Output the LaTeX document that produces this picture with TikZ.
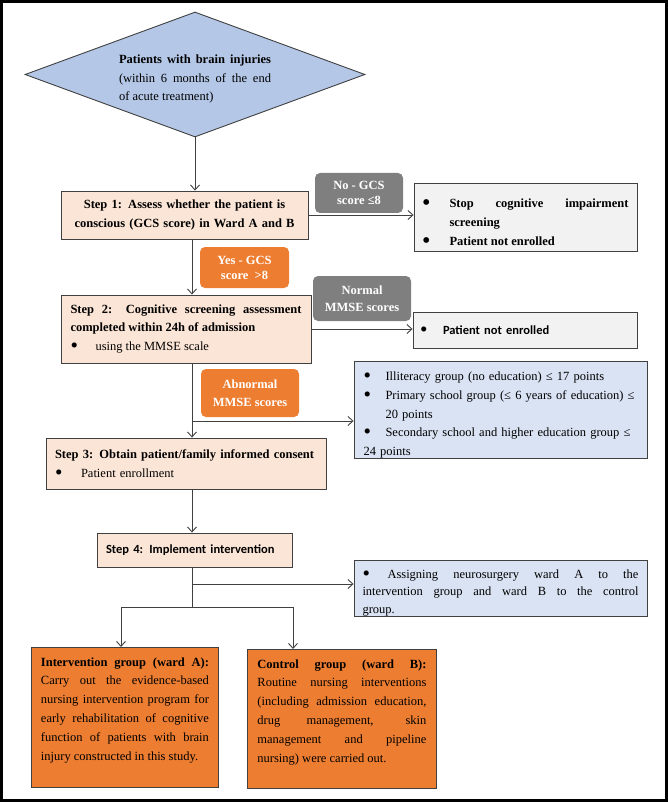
\documentclass[tikz,border=0pt]{standalone}
\usepackage{fontspec}
\usepackage{graphicx}
\setmainfont{Liberation Serif}
\newfontfamily\calib{Carlito}
\usetikzlibrary{shapes.geometric,arrows.meta}
\definecolor{dia}{HTML}{B4C7E7}
\definecolor{peach}{HTML}{FBE5D6}
\definecolor{lgray}{HTML}{F2F2F2}
\definecolor{lblue}{HTML}{DAE3F3}
\definecolor{orng}{HTML}{ED7D31}
\definecolor{dgray}{HTML}{7F7F7F}
\definecolor{edge}{HTML}{404040}
\newcommand\fs{\fontsize{12.5}{18.8}\selectfont}
\newcommand\bl{\smash{\raisebox{-2pt}{\scalebox{1.7}{\textbullet}}}}
\newcommand\itm[2]{\par\noindent\hangindent=#1\hangafter=1\makebox[#1][l]{\bl}#2}
\begin{document}
\begin{tikzpicture}[x=1pt,y=-1pt,
  box/.style={draw=edge, line width=0.9pt, inner ysep=0pt, font=\fs},
  stepbox/.style={box, fill=peach},
  lab/.style={rounded corners=5pt, text=white, inner sep=0pt, align=center},
  arr/.style={draw=edge, line width=0.9pt, -{Straight Barb[length=5pt,width=9pt,line width=0.9pt]}},
  ln/.style={draw=edge, line width=0.9pt}]
\useasboundingbox (0,0) rectangle (668,802);
\draw[line width=3pt, black] (1.5,1.5) rectangle (666.5,800.5);

% diamond
\node[diamond, draw=edge, line width=0.9pt, fill=dia, minimum width=340pt, minimum height=125pt, inner sep=0pt] (dia) at (195,74.5) {};
\node[inner sep=0pt, text width=152pt, align=justify, font=\fs] (dt) at (195,79)
  {{\bfseries Patients with brain injuries}\linebreak (within 6 months of the end\linebreak of acute treatment)};

% step 1
\node[stepbox, minimum width=247pt, minimum height=48pt, text width=240pt, inner xsep=0pt, align=center, font=\fs\bfseries] (s1) at (184.5,215)
  {Step 1: Assess whether the patient is\\conscious (GCS score) in Ward A and B};

% stop box
\node[box, fill=lgray, minimum width=223pt, minimum height=68pt, text width=206pt, inner xsep=0pt, align=justify] (stop) at (525.5,217)
  {\bfseries\itm{27pt}{Stop cognitive impairment\linebreak screening}\itm{27pt}{Patient not enrolled}};

% step 2
\node[stepbox, minimum width=250pt, minimum height=68pt, text width=231pt, inner xsep=0pt, align=justify] (s2) at (186,329)
  {{\bfseries Step 2: Cognitive screening assessment\linebreak completed within 24h of admission}\par\noindent\makebox[25pt][l]{\bl}using the MMSE scale};

% not enrolled
\node[box, fill=lgray, minimum width=224pt, minimum height=36pt, text width=210pt, inner xsep=0pt, align=left] (ne) at (525,330)
  {\noindent\makebox[23pt][l]{\bl}{\calib\bfseries Patient not enrolled}};

% blue box 1
\node[box, fill=lblue, minimum width=293pt, minimum height=96pt, text width=274pt, inner xsep=0pt, align=left] (bl1) at (500.5,410)
  {\itm{22pt}{Illiteracy group (no education) ≤ 17 points}\itm{22pt}{Primary school group (≤ 6 years of education) ≤\newline 20 points}\itm{22pt}{Secondary school and higher education group ≤\newline 24 points}};

% step 3
\node[stepbox, minimum width=280pt, minimum height=51pt, text width=262pt, inner xsep=0pt, align=left] (s3) at (186,463.5)
  {{\bfseries Step 3: Obtain patient/family informed consent}\par\noindent\makebox[26pt][l]{\bl}Patient enrollment};

% step 4
\node[stepbox, minimum width=195pt, minimum height=34pt, text width=177pt, inner xsep=0pt, align=left, font=\fs\calib\bfseries] (s4) at (194.5,550)
  {Step 4: Implement intervention};

% blue box 2
\node[box, fill=lblue, minimum width=293pt, minimum height=53pt, text width=276pt, inner xsep=0pt, align=justify, font=\fontsize{12.5}{17.5}\selectfont] (bl2) at (500.5,588.5)
  {\itm{25pt}{Assigning neurosurgery ward A to the\linebreak intervention group and ward B to the control\linebreak group.}};

% bottom boxes
\node[box, fill=orng, anchor=north west, inner xsep=9.5pt, inner ysep=10pt] (ig) at (31,647)
  {\parbox[t][120pt][t]{168pt}{{\bfseries Intervention group (ward A):}\linebreak Carry out the evidence-based\linebreak nursing intervention program for\linebreak early rehabilitation of cognitive\linebreak function of patients with brain\linebreak injury constructed in this study.}};
\node[box, fill=orng, anchor=north west, inner xsep=10pt, inner ysep=10pt] (cg) at (247,649)
  {\parbox[t][119pt][t]{169pt}{{\bfseries Control group (ward B):}\linebreak Routine nursing interventions\linebreak (including admission education,\linebreak drug management, skin\linebreak management and pipeline\linebreak nursing) were carried out.}};

% labels
\node[lab, fill=dgray, minimum width=88pt, minimum height=40pt, font=\fontsize{12.5}{15}\selectfont\bfseries] (lno) at (359,193) {No - GCS\\score ≤8};
\node[lab, fill=orng, minimum width=89pt, minimum height=41pt, font=\fontsize{12.5}{15}\selectfont\bfseries] (lyes) at (244.5,267.5) {Yes - GCS\\score\enspace>8};
\node[lab, fill=dgray, minimum width=98pt, minimum height=45pt, font=\fontsize{12.5}{16.5}\selectfont\bfseries] (lnorm) at (362,298.5) {Normal\\MMSE scores};
\node[lab, fill=orng, minimum width=98pt, minimum height=48pt, font=\fontsize{12.5}{18}\selectfont\bfseries] (labn) at (250,393) {Abnormal\\MMSE scores};

% connectors
\coordinate (spine) at (192,0);
\draw[arr] (dia.south) -- (dia.south |- s1.north);
\draw[arr] (s1.east) -- (s1.east -| stop.west);
\draw[arr] (s1.south -| spine) -- (s2.north -| spine);
\draw[arr] (s2.east) -- (s2.east -| ne.west);
\draw[arr] (s2.south -| spine) -- (s3.north -| spine);
\coordinate (b1) at (192,421);
\draw[arr] (b1) -- (b1 -| bl1.west);
\draw[arr] (s3.south -| spine) -- (s4.north -| spine);
\coordinate (j) at (192,607);
\draw[ln] (s4.south -| spine) -- (j);
\coordinate (b2) at (192,584);
\draw[arr] (b2) -- (b2 -| bl2.west);
\coordinate (jl) at (121,607);
\coordinate (jr) at (293,607);
\draw[ln] (jl) -- (jr);
\draw[arr] (jl) -- (jl |- ig.north);
\draw[arr] (jr) -- (jr |- cg.north);
\end{tikzpicture}
\end{document}
